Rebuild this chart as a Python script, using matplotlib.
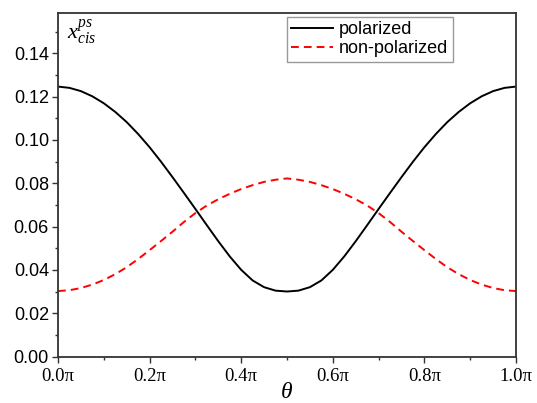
import matplotlib
matplotlib.use("Agg")
import matplotlib.pyplot as plt
from matplotlib.ticker import MultipleLocator

theta = [0.000, 0.025, 0.050, 0.075, 0.100, 0.125, 0.150, 0.175, 0.200, 0.225,
         0.250, 0.275, 0.300, 0.325, 0.350, 0.375, 0.400, 0.425, 0.450, 0.475,
         0.500, 0.525, 0.550, 0.575, 0.600, 0.625, 0.650, 0.675, 0.700, 0.725,
         0.750, 0.775, 0.800, 0.825, 0.850, 0.875, 0.900, 0.925, 0.950, 0.975, 1.000]

polarized = [0.1246, 0.1240, 0.1225, 0.1201, 0.1169, 0.1129, 0.1082, 0.1027, 0.0966, 0.0899,
             0.0828, 0.0755, 0.0681, 0.0606, 0.0532, 0.0462, 0.0400, 0.0351, 0.0320, 0.0304,
             0.0300, 0.0304, 0.0320, 0.0351, 0.0400, 0.0462, 0.0532, 0.0606, 0.0681, 0.0755,
             0.0828, 0.0899, 0.0966, 0.1027, 0.1082, 0.1129, 0.1169, 0.1201, 0.1225, 0.1240, 0.1246]

non_polarized = [0.0302, 0.0306, 0.0316, 0.0332, 0.0353, 0.0380, 0.0412, 0.0450, 0.0491, 0.0533,
                 0.0576, 0.0621, 0.0662, 0.0697, 0.0726, 0.0751, 0.0773, 0.0791, 0.0806, 0.0816,
                 0.0822, 0.0816, 0.0806, 0.0791, 0.0773, 0.0751, 0.0726, 0.0697, 0.0662, 0.0621,
                 0.0576, 0.0533, 0.0491, 0.0450, 0.0412, 0.0380, 0.0353, 0.0332, 0.0316, 0.0306, 0.0302]

xticks = [0.0, 0.2, 0.4, 0.6, 0.8, 1.0]
xticklabels = ["0.0\u03c0", "0.2\u03c0", "0.4\u03c0", "0.6\u03c0", "0.8\u03c0", "1.0\u03c0"]
yticks = [0.00, 0.02, 0.04, 0.06, 0.08, 0.10, 0.12, 0.14]
yticklabels = ["0.00", "0.02", "0.04", "0.06", "0.08", "0.10", "0.12", "0.14"]

plt.rcParams['mathtext.fontset'] = 'custom'
plt.rcParams['mathtext.it'] = 'Liberation Serif:italic'
plt.rcParams['mathtext.rm'] = 'Liberation Serif'
plt.rcParams['font.family'] = ['Liberation Sans', 'DejaVu Sans']

fig = plt.figure(figsize=(5.37, 4.03), dpi=100)
ax = fig.add_axes([58/537, 1 - 356.5/403, (516-58)/537, (356.5-12.7)/403])

ax.plot(theta, polarized, color='black', lw=1.4, label='polarized', solid_joinstyle='round')
ax.plot(theta, non_polarized, color='#ff0000', lw=1.4, ls=(0, (4.0, 2.6)), label='non-polarized')

ax.set_xlim(0, 1.0)
ax.set_ylim(0, 0.1587)
ax.set_xticks(xticks)
ax.set_xticklabels(xticklabels, fontfamily=['Liberation Serif', 'DejaVu Serif'], fontsize=13.5)
ax.set_yticks(yticks)
ax.set_yticklabels(yticklabels, fontsize=13)
ax.xaxis.set_minor_locator(MultipleLocator(0.1))
ax.yaxis.set_minor_locator(MultipleLocator(0.01))
ax.tick_params(which='major', direction='out', length=4.5, width=1.0, color='#333333', top=False, right=False)
ax.tick_params(axis='x', which='major', pad=4)
ax.tick_params(axis='y', which='major', pad=2)
ax.tick_params(which='minor', direction='out', length=2.5, width=1.0, color='#333333', top=False, right=False)
for s in ax.spines.values():
    s.set_linewidth(1.3)
    s.set_color('#333333')

ax.set_xlabel(r'$\theta$', fontsize=17, labelpad=-3)
ax.text(0.02, 0.985, r'$x^{ps}_{cis}$', transform=ax.transAxes, fontsize=16, va='top', ha='left')

leg = ax.legend(loc='upper left', bbox_to_anchor=((286.7-58)/458, 1 - (16.7-12.7)/343.8),
                frameon=True, fancybox=False, fontsize=13, handlelength=2.3,
                borderpad=0.25, labelspacing=0.12, handletextpad=0.35, borderaxespad=0)
leg.get_frame().set_edgecolor('#808080')
leg.get_frame().set_linewidth(1.0)

fig.savefig('out.png', dpi=100)
